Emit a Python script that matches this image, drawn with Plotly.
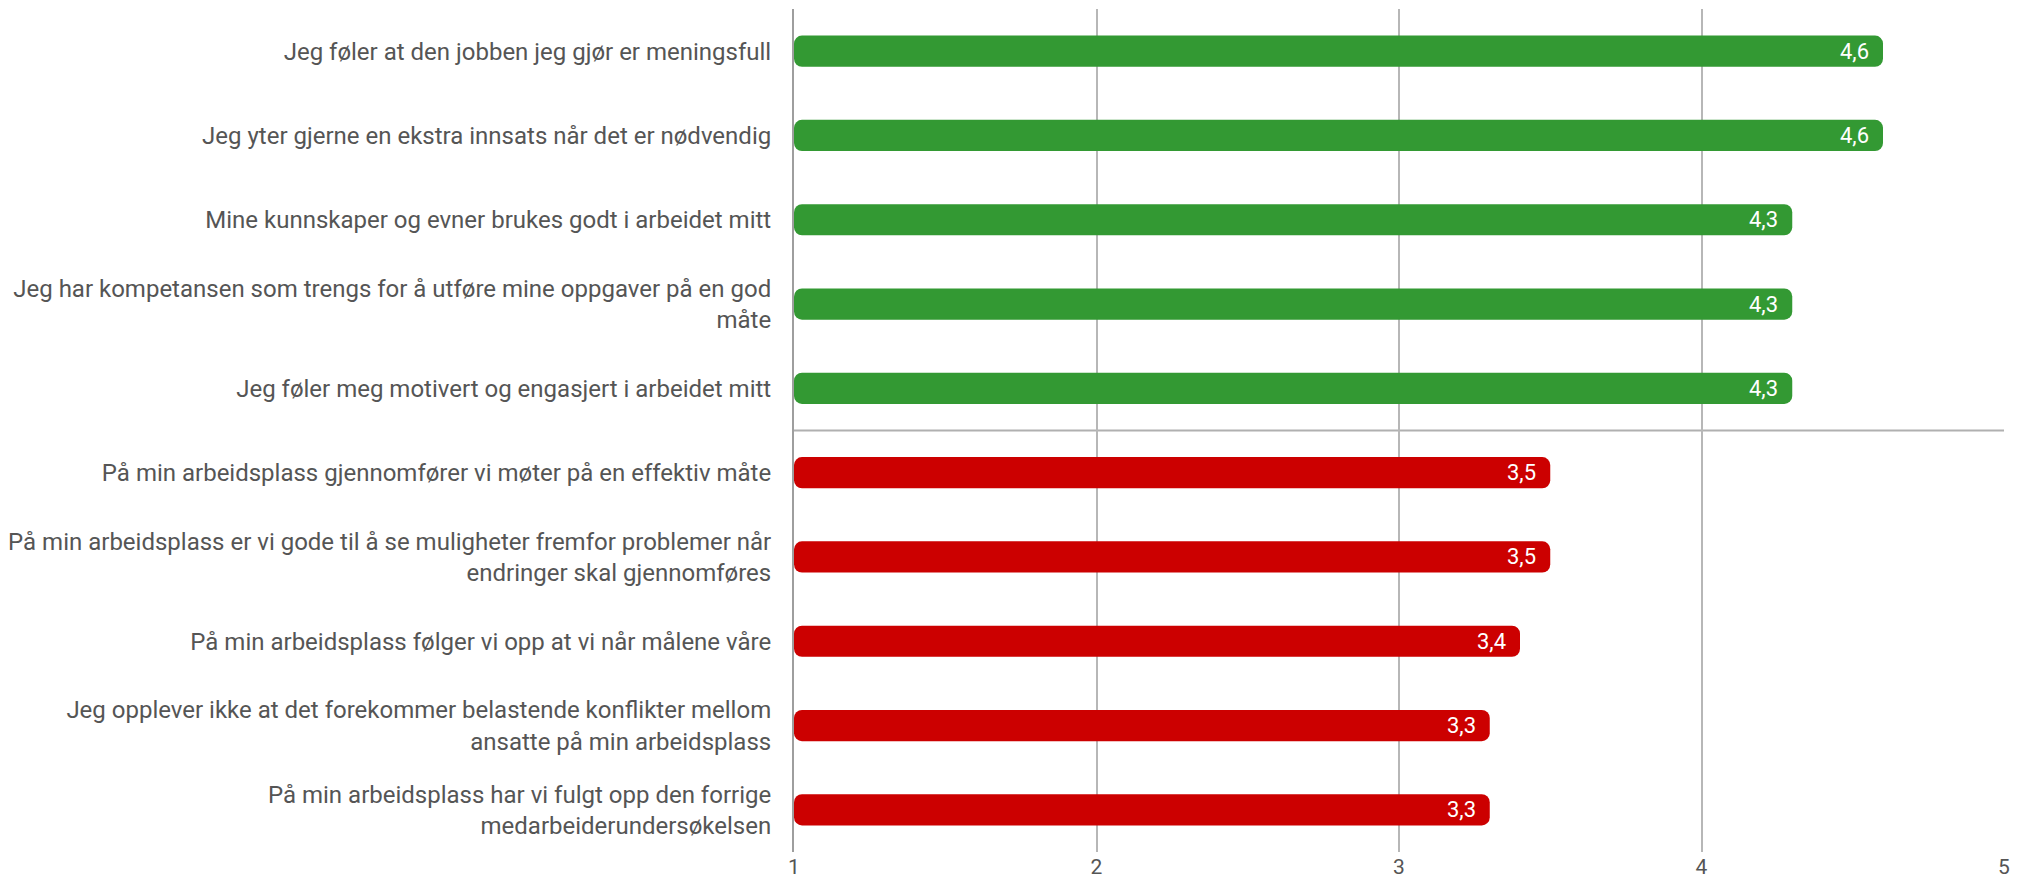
import plotly.graph_objects as go

categories = [
    "Jeg føler at den jobben jeg gjør er meningsfull",
    "Jeg yter gjerne en ekstra innsats når det er nødvendig",
    "Mine kunnskaper og evner brukes godt i arbeidet mitt",
    "Jeg har kompetansen som trengs for å utføre mine oppgaver på en god<br>måte",
    "Jeg føler meg motivert og engasjert i arbeidet mitt",
    "På min arbeidsplass gjennomfører vi møter på en effektiv måte",
    "På min arbeidsplass er vi gode til å se muligheter fremfor problemer når<br>endringer skal gjennomføres",
    "På min arbeidsplass følger vi opp at vi når målene våre",
    "Jeg opplever ikke at det forekommer belastende konflikter mellom<br>ansatte på min arbeidsplass",
    "På min arbeidsplass har vi fulgt opp den forrige<br>medarbeiderundersøkelsen",
]
values = [4.6, 4.6, 4.3, 4.3, 4.3, 3.5, 3.5, 3.4, 3.3, 3.3]
groups = ["top", "top", "top", "top", "top", "bottom", "bottom", "bottom", "bottom", "bottom"]
x_ticks = [1, 2, 3, 4, 5]

GROUP_COLORS = {"top": "#339933", "bottom": "#cc0000"}
colors = [GROUP_COLORS[g] for g in groups]
texts = [f"{v:.1f}".replace(".", ",") for v in values]

fig = go.Figure(
    go.Bar(
        x=[v - 1 for v in values],
        base=1,
        y=categories,
        orientation="h",
        marker=dict(color=colors, cornerradius=8, line=dict(width=0)),
        width=0.37,
        hoverinfo="skip",
    )
)

for cat, v, t in zip(categories, values, texts):
    fig.add_annotation(
        x=v, y=cat, xref="x", yref="y", text=t, showarrow=False,
        xanchor="right", yanchor="middle", xshift=-12,
        font=dict(family="Roboto", size=22, color="white"),
    )

n_top = groups.count("top")
fig.add_shape(
    type="line", xref="x", yref="y",
    x0=1, x1=5, y0=n_top - 0.5, y1=n_top - 0.5,
    line=dict(color="#b0b0b0", width=2), layer="below",
)

fig.update_layout(
    width=2022, height=884,
    margin=dict(l=794, r=18, t=9, b=32, autoexpand=False),
    plot_bgcolor="white", paper_bgcolor="white",
    showlegend=False,
    font=dict(family="Roboto", color="#555555"),
)
fig.update_xaxes(
    range=[1, 5], tickvals=x_ticks, ticktext=[str(t) for t in x_ticks],
    showgrid=True, gridcolor="#b7b7b7", gridwidth=1.5,
    zeroline=False, showline=False, automargin=False,
    tickfont=dict(family="Roboto", size=21, color="#555555"),
    ticks="", ticklen=0,
    fixedrange=True,
)
fig.update_yaxes(
    autorange="reversed", type="category", automargin=False,
    showgrid=False, showline=True, linecolor="#9e9e9e", linewidth=2,
    tickfont=dict(family="Roboto", size=24, color="#555555"),
    ticks="outside", ticklen=16, tickcolor="rgba(0,0,0,0)",
    fixedrange=True,
)

fig.write_html(
    "out.html",
    config={"displayModeBar": False},
    post_script="document.body.style.margin='0px';document.body.style.overflow='hidden';",
)
